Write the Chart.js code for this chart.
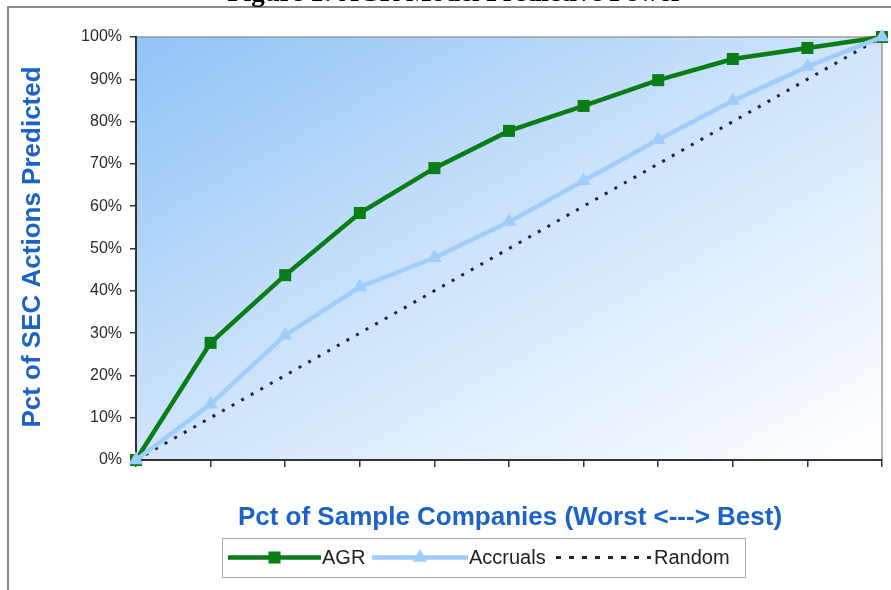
<!DOCTYPE html>
<html>
<head>
<meta charset="utf-8">
<script src="https://cdn.jsdelivr.net/npm/chart.js@4/dist/chart.umd.min.js"></script>
<style>
  html, body { margin: 0; padding: 0; background: #ffffff; }
  #wrap { position: relative; width: 891px; height: 590px; }
</style>
</head>
<body>
<div id="wrap"><canvas id="c" width="891" height="590"></canvas></div>
<script>
// Deciles of sample companies, worst to best
const deciles = [0, 1, 2, 3, 4, 5, 6, 7, 8, 9, 10];
// Cumulative share of SEC actions captured (fraction)
const agr      = [0, 0.277, 0.437, 0.584, 0.690, 0.778, 0.837, 0.898, 0.948, 0.974, 1.0];
const accruals = [0, 0.132, 0.295, 0.409, 0.478, 0.563, 0.660, 0.757, 0.849, 0.930, 1.0];
const random   = [0, 0.1, 0.2, 0.3, 0.4, 0.5, 0.6, 0.7, 0.8, 0.9, 1.0];
const yTicks   = [0, 0.1, 0.2, 0.3, 0.4, 0.5, 0.6, 0.7, 0.8, 0.9, 1.0];

const chartTitle = 'Figure 1: AGR Model Predictive Power';
const yTitle = 'Pct of SEC Actions Predicted';
const xTitle = 'Pct of Sample Companies (Worst <---> Best)';

const GREEN = '#0b7d16';
const LIGHT = '#9fcdfb';
const DOT = '#1e2340';
const AXIS_BLUE = '#1c63c9';

const pts = arr => arr.map((v, i) => ({ x: deciles[i], y: v }));

// Gradient plot background, page frame, titles and legend
const decor = {
  id: 'decor',
  beforeDraw(chart) {
    const { ctx, chartArea: a } = chart;
    const w = a.right - a.left, h = a.bottom - a.top;
    ctx.save();
    // gradient runs so that the top-right and bottom-left corners share a tone
    const s = 2 * w * h / (w * w + h * h);
    const g = ctx.createLinearGradient(a.left, a.top, a.left + h * s, a.top + w * s);
    g.addColorStop(0, '#90c3f6');
    g.addColorStop(0.5, '#d0e5fb');
    g.addColorStop(1, '#ffffff');
    ctx.fillStyle = g;
    ctx.fillRect(a.left, a.top, w, h);
    // plot frame (top & right)
    ctx.strokeStyle = '#9a9a9a';
    ctx.lineWidth = 1.5;
    ctx.beginPath();
    ctx.moveTo(a.left, a.top);
    ctx.lineTo(a.right, a.top);
    ctx.lineTo(a.right, a.bottom);
    ctx.stroke();
    // outer frame
    ctx.strokeStyle = '#8a8a8a';
    ctx.lineWidth = 2;
    ctx.beginPath();
    ctx.moveTo(8, 590);
    ctx.lineTo(8, 7);
    ctx.lineTo(891, 7);
    ctx.stroke();
    ctx.restore();
  },
  afterDraw(chart) {
    const { ctx } = chart;
    ctx.save();
    // heading (runs off the top edge)
    ctx.fillStyle = '#000';
    ctx.font = 'bold 27px "Liberation Serif", "Times New Roman", serif';
    ctx.textAlign = 'center';
    ctx.textBaseline = 'alphabetic';
    ctx.fillText(chartTitle, 455, 0.5);

    // axis titles
    ctx.fillStyle = AXIS_BLUE;
    ctx.font = 'bold 26px "Liberation Sans", Arial, sans-serif';
    ctx.textBaseline = 'middle';
    ctx.fillText(xTitle, 510, 518);
    ctx.save();
    ctx.translate(33, 247);
    ctx.rotate(-Math.PI / 2);
    ctx.font = 'bold 26px "Liberation Sans", Arial, sans-serif';
    ctx.fillText(yTitle, 0, 0);
    ctx.restore();

    // legend box
    const bx = 222, by = 538, bw = 523, bh = 39;
    ctx.fillStyle = '#ffffff';
    ctx.fillRect(bx, by, bw, bh);
    ctx.strokeStyle = '#a8a8a8';
    ctx.lineWidth = 1;
    ctx.strokeRect(bx + 0.5, by + 0.5, bw, bh);
    const cy = by + bh / 2;
    ctx.font = '20px "Liberation Sans", Arial, sans-serif';
    ctx.textAlign = 'left';
    ctx.textBaseline = 'middle';
    const items = [
      { ds: chart.data.datasets[1], x0: 228, x1: 321, tx: 322 },
      { ds: chart.data.datasets[0], x0: 372, x1: 468, tx: 469 },
      { ds: chart.data.datasets[2], x0: 556, x1: 651, tx: 654, dash: [5, 8] }
    ];
    items.forEach(it => {
      const ds = it.ds;
      ctx.save();
      ctx.strokeStyle = ds.borderColor;
      ctx.lineWidth = ds.borderWidth;
      ctx.setLineDash(it.dash || ds.borderDash || []);
      ctx.beginPath();
      ctx.moveTo(it.x0, cy);
      ctx.lineTo(it.x1, cy);
      ctx.stroke();
      ctx.restore();
      if (ds.pointRadius > 0) {
        ctx.fillStyle = ds.pointBackgroundColor;
        ctx.strokeStyle = ds.pointBackgroundColor;
        Chart.helpers.drawPoint(ctx, {
          pointStyle: ds.pointStyle,
          radius: ds.pointRadius,
          borderWidth: 0,
          rotation: 0
        }, (it.x0 + it.x1) / 2, cy);
      }
      ctx.fillStyle = '#222';
      ctx.fillText(ds.label, it.tx, cy + 1);
    });
    ctx.restore();
  }
};

new Chart(document.getElementById('c'), {
  type: 'line',
  data: {
    datasets: [
      {
        label: 'Accruals',
        data: pts(accruals),
        borderColor: LIGHT,
        backgroundColor: LIGHT,
        pointBackgroundColor: LIGHT,
        pointBorderColor: LIGHT,
        borderWidth: 4.5,
        pointStyle: 'triangle',
        pointRadius: 8.5,
        pointBorderWidth: 0,
        order: 0
      },
      {
        label: 'AGR',
        data: pts(agr),
        borderColor: GREEN,
        backgroundColor: GREEN,
        pointBackgroundColor: GREEN,
        pointBorderColor: GREEN,
        borderWidth: 4.5,
        pointStyle: 'rect',
        pointRadius: 8.5,
        pointBorderWidth: 0,
        order: 1
      },
      {
        label: 'Random',
        data: pts(random),
        borderColor: DOT,
        backgroundColor: DOT,
        borderWidth: 3,
        borderDash: [3, 8],
        pointRadius: 0,
        order: 2
      }
    ]
  },
  options: {
    responsive: false,
    animation: false,
    clip: false,
    layout: { padding: { top: 37, right: 9, bottom: 0, left: 0 } },
    plugins: { legend: { display: false }, tooltip: { enabled: false }, title: { display: false } },
    scales: {
      x: {
        type: 'linear',
        min: 0, max: 10,
        afterBuildTicks(s) { s.ticks = deciles.map(v => ({ value: v })); },
        afterFit(s) { s.height = 130; },
        ticks: { display: true, callback: () => '', padding: 0 },
        grid: { drawOnChartArea: false, drawTicks: true, tickLength: 7, color: '#333', lineWidth: 1.5 },
        border: { display: true, color: '#333', width: 2 }
      },
      y: {
        type: 'linear',
        min: 0, max: 1,
        afterBuildTicks(s) { s.ticks = yTicks.map(v => ({ value: v })); },
        afterFit(s) { s.width = 136; },
        ticks: {
          callback: v => Math.round(v * 100) + '%',
          color: '#2a2a2a',
          font: { family: '"Liberation Sans", Arial, sans-serif', size: 16 },
          padding: 8
        },
        grid: { drawOnChartArea: false, drawTicks: true, tickLength: 6, color: '#333', lineWidth: 1.5 },
        border: { display: true, color: '#333', width: 2 }
      }
    }
  },
  plugins: [decor]
});
</script>
</body>
</html>
